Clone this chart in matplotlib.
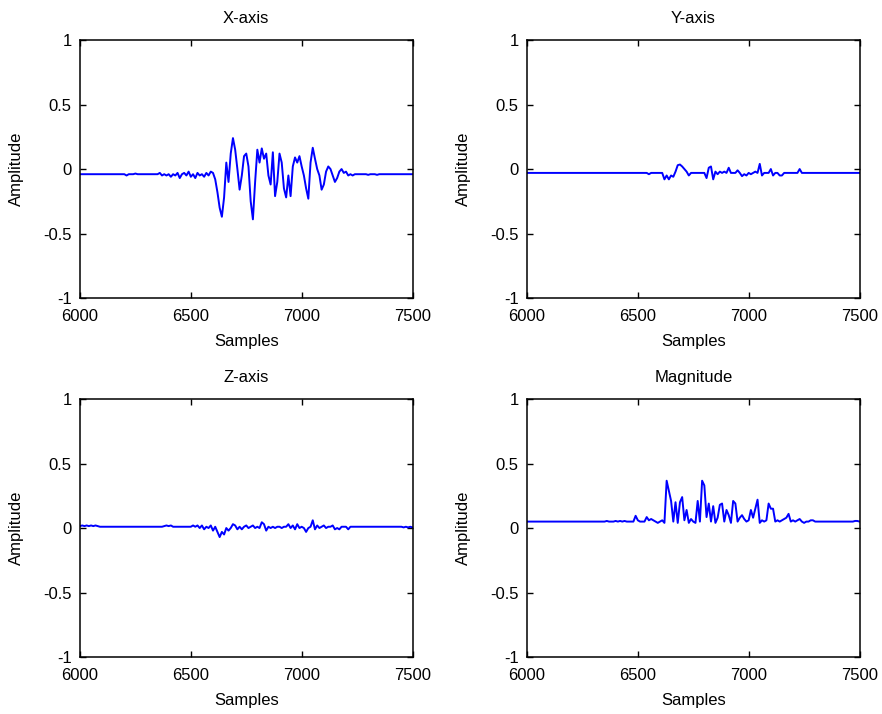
import numpy as np
import matplotlib
matplotlib.use("Agg")
import matplotlib.pyplot as plt

plt.rcParams['font.family'] = ['Liberation Sans', 'DejaVu Sans']

# sample index every 10 samples, 6000..7500
samples = np.arange(6000, 7501, 10)

x_axis = [
    -0.04, -0.04, -0.04, -0.04, -0.04, -0.04, -0.04, -0.04, -0.04, -0.04,
    -0.04, -0.04, -0.04, -0.04, -0.04, -0.04, -0.04, -0.04, -0.04, -0.04,
    -0.04, -0.05, -0.04, -0.04, -0.04, -0.035, -0.04, -0.04, -0.04, -0.04,
    -0.04, -0.04, -0.04, -0.04, -0.04, -0.04, -0.03, -0.05, -0.04, -0.05,
    -0.04, -0.06, -0.04, -0.05, -0.03, -0.07, -0.04, -0.03, -0.05, -0.02,
    -0.06, -0.04, -0.07, -0.03, -0.05, -0.04, -0.06, -0.03, -0.05, -0.02,
    -0.03, -0.08, -0.18, -0.30, -0.37, -0.22, 0.05, -0.10, 0.12, 0.24,
    0.15, 0.00, -0.16, -0.05, 0.10, 0.12, 0.02, -0.25, -0.39, -0.10,
    0.15, 0.05, 0.16, 0.08, 0.12, -0.05, -0.12, 0.13, -0.21, -0.10,
    0.12, 0.05, -0.15, -0.22, -0.05, -0.21, 0.02, 0.09, 0.05, 0.10,
    0.02, -0.05, -0.15, -0.23, 0.05, 0.165, 0.08, 0.00, -0.05, -0.16,
    -0.12, -0.02, 0.02, 0.00, -0.05, -0.10, -0.07, -0.02, 0.00, -0.03,
    -0.02, -0.05, -0.04, -0.05, -0.04, -0.04, -0.04, -0.04, -0.04, -0.04,
    -0.045, -0.04, -0.04, -0.04, -0.045, -0.04, -0.04, -0.04, -0.04, -0.04,
    -0.04, -0.04, -0.04, -0.04, -0.04, -0.04, -0.04, -0.04, -0.04, -0.04,
    -0.04,
]

y_axis = [
    -0.03, -0.03, -0.03, -0.03, -0.03, -0.03, -0.03, -0.03, -0.03, -0.03,
    -0.03, -0.03, -0.03, -0.03, -0.03, -0.03, -0.03, -0.03, -0.03, -0.03,
    -0.03, -0.03, -0.03, -0.03, -0.03, -0.03, -0.03, -0.03, -0.03, -0.03,
    -0.03, -0.03, -0.03, -0.03, -0.03, -0.03, -0.03, -0.03, -0.03, -0.03,
    -0.03, -0.03, -0.03, -0.03, -0.03, -0.03, -0.03, -0.03, -0.03, -0.03,
    -0.03, -0.03, -0.03, -0.03, -0.03, -0.04, -0.03, -0.03, -0.03, -0.03,
    -0.03, -0.03, -0.08, -0.05, -0.08, -0.05, -0.06, -0.02, 0.03, 0.035,
    0.02, 0.00, -0.02, -0.05, -0.03, -0.03, -0.03, -0.03, -0.03, -0.03,
    -0.03, -0.07, 0.01, 0.02, -0.08, -0.02, -0.04, -0.02, -0.03, -0.02,
    -0.03, 0.01, -0.03, -0.03, -0.03, -0.01, -0.03, -0.055, -0.04, -0.05,
    -0.03, -0.04, -0.03, -0.02, -0.03, 0.04, -0.05, -0.03, -0.03, -0.03,
    0.00, -0.05, -0.03, -0.03, -0.05, -0.05, -0.03, -0.03, -0.03, -0.03,
    -0.03, -0.03, -0.03, 0.00, -0.03, -0.03, -0.03, -0.03, -0.03, -0.03,
    -0.03, -0.03, -0.03, -0.03, -0.03, -0.03, -0.03, -0.03, -0.03, -0.03,
    -0.03, -0.03, -0.03, -0.03, -0.03, -0.03, -0.03, -0.03, -0.03, -0.03,
    -0.03,
]

z_axis = [
    0.015, 0.02, 0.015, 0.02, 0.015, 0.02, 0.015, 0.02, 0.015, 0.01,
    0.01, 0.01, 0.01, 0.01, 0.01, 0.01, 0.01, 0.01, 0.01, 0.01,
    0.01, 0.01, 0.01, 0.01, 0.01, 0.01, 0.01, 0.01, 0.01, 0.01,
    0.01, 0.01, 0.01, 0.01, 0.01, 0.01, 0.01, 0.01, 0.015, 0.02,
    0.015, 0.02, 0.01, 0.01, 0.01, 0.01, 0.01, 0.01, 0.01, 0.01,
    0.01, 0.02, 0.01, 0.02, 0.00, 0.02, -0.01, 0.01, 0.00, 0.02,
    -0.02, 0.01, -0.03, -0.07, -0.03, -0.05, 0.00, -0.02, 0.00, 0.03,
    0.02, -0.01, 0.01, -0.01, 0.01, 0.02, 0.00, 0.01, 0.02, 0.00,
    0.01, 0.00, 0.045, 0.03, -0.02, 0.01, 0.00, 0.01, 0.00, 0.01,
    0.01, 0.00, 0.01, 0.01, 0.03, 0.00, 0.02, -0.01, 0.03, 0.00,
    0.01, 0.00, -0.03, 0.00, 0.01, 0.06, -0.01, 0.02, 0.00, 0.01,
    0.02, 0.00, 0.01, 0.01, 0.02, -0.01, 0.00, -0.01, 0.01, 0.01,
    0.01, -0.01, 0.01, 0.01, 0.01, 0.01, 0.01, 0.01, 0.01, 0.01,
    0.01, 0.01, 0.01, 0.01, 0.01, 0.01, 0.01, 0.01, 0.01, 0.01,
    0.01, 0.01, 0.01, 0.01, 0.01, 0.01, 0.005, 0.01, 0.005, 0.01,
    0.005,
]

magnitude = [
    0.05, 0.05, 0.05, 0.05, 0.05, 0.05, 0.05, 0.05, 0.05, 0.05,
    0.05, 0.05, 0.05, 0.05, 0.05, 0.05, 0.05, 0.05, 0.05, 0.05,
    0.05, 0.05, 0.05, 0.05, 0.05, 0.05, 0.05, 0.05, 0.05, 0.05,
    0.05, 0.05, 0.05, 0.05, 0.05, 0.05, 0.055, 0.05, 0.05, 0.05,
    0.055, 0.05, 0.055, 0.05, 0.055, 0.05, 0.05, 0.05, 0.05, 0.095,
    0.06, 0.05, 0.05, 0.05, 0.085, 0.06, 0.07, 0.06, 0.05, 0.04,
    0.05, 0.06, 0.04, 0.367, 0.29, 0.21, 0.05, 0.20, 0.04, 0.20,
    0.24, 0.06, 0.14, 0.04, 0.07, 0.05, 0.04, 0.21, 0.05, 0.367,
    0.33, 0.085, 0.19, 0.05, 0.17, 0.04, 0.08, 0.18, 0.19, 0.05,
    0.14, 0.10, 0.04, 0.21, 0.19, 0.05, 0.08, 0.10, 0.07, 0.05,
    0.06, 0.14, 0.08, 0.15, 0.22, 0.04, 0.06, 0.05, 0.06, 0.19,
    0.15, 0.15, 0.05, 0.06, 0.05, 0.06, 0.07, 0.08, 0.11, 0.05,
    0.06, 0.05, 0.06, 0.07, 0.05, 0.04, 0.05, 0.05, 0.06, 0.06,
    0.05, 0.05, 0.05, 0.05, 0.05, 0.05, 0.05, 0.05, 0.05, 0.05,
    0.05, 0.05, 0.05, 0.05, 0.05, 0.05, 0.05, 0.05, 0.055, 0.055,
    0.05,
]

titles = ['X-axis', 'Y-axis', 'Z-axis', 'Magnitude']
series = [x_axis, y_axis, z_axis, magnitude]
xticks = [6000, 6500, 7000, 7500]
yticks = [-1, -0.5, 0, 0.5, 1]
ytick_labels = ['-1', '-0.5', '0', '0.5', '1']

fig = plt.figure(figsize=(8.82, 7.14), dpi=100)
# left, bottom of each panel in figure fraction
positions = [(0.0907, 0.5826), (0.5975, 0.5826),
             (0.0907, 0.0798), (0.5975, 0.0798)]

for (left, bottom), title, vals in zip(positions, titles, series):
    ax = fig.add_axes([left, bottom, 0.377, 0.3613])
    ax.plot(samples, vals, color='#0000ff', lw=1.4)
    ax.set_xlim(6000, 7500)
    ax.set_ylim(-1, 1)
    ax.set_xticks(xticks)
    ax.set_yticks(yticks)
    ax.set_yticklabels(ytick_labels)
    ax.tick_params(direction='in', top=True, right=True, length=4,
                   width=1, labelsize=12)
    ax.tick_params(axis='x', pad=8)
    ax.tick_params(axis='y', pad=6)
    for s in ax.spines.values():
        s.set_linewidth(1.1)
    ax.set_title(title, fontsize=12, pad=12)
    ax.set_xlabel('Samples', fontsize=12, labelpad=7)
    ax.set_ylabel('Amplitude', fontsize=12, labelpad=14)

fig.savefig('out.png', dpi=100)
